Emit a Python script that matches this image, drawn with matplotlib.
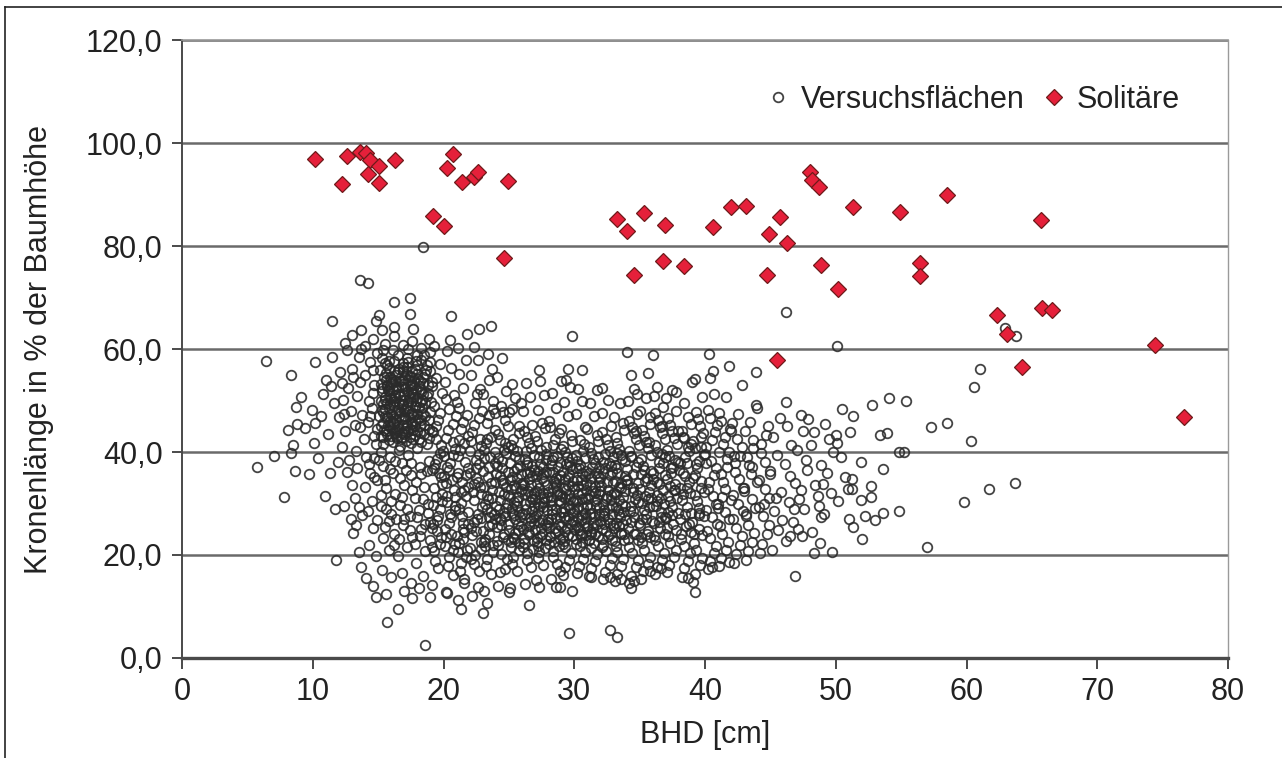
import numpy as np
import matplotlib.pyplot as plt
from matplotlib.lines import Line2D
from matplotlib.ticker import FuncFormatter

# BHD [cm] / Kronenlänge [% der Baumhöhe] der Bäume auf den Versuchsflächen
versuch_links = [
    (5.7, 37.0), (6.4, 57.7), (7.0, 39.3), (7.8, 31.2), (8.3, 55.0), (8.1, 44.3), (8.7, 48.8),
    (9.1, 50.7), (8.6, 36.4), (9.7, 35.7), (8.3, 39.9), (8.5, 41.4), (8.8, 45.4), (9.4, 44.6),
    (10.1, 41.8), (10.2, 57.5), (9.9, 48.2), (10.2, 45.7), (11.5, 65.5), (11.5, 58.5), (10.8, 51.2),
    (11.8, 19.0), (11.9, 38.1), (10.6, 47.0), (11.2, 43.5), (11.0, 54.0), (10.4, 38.8), (11.6, 49.5),
    (11.3, 36.0), (10.9, 31.5), (11.7, 29.0), (12.0, 46.8), (11.4, 52.8), (12.1, 55.5), (12.2, 41.0),
    (12.4, 29.6), (13.5, 29.4), (13.0, 33.6), (12.6, 36.2), (13.7, 63.7), (13.6, 73.5), (14.2, 72.8),
    (12.5, 61.1), (12.6, 59.8), (13.7, 60.0), (14.4, 57.5), (13.0, 56.2), (14.6, 61.9), (13.7, 17.6),
    (13.5, 20.6), (13.1, 24.2), (13.3, 25.8), (14.6, 25.2), (14.8, 11.9),
    (12.3, 50.2), (12.7, 52.5), (12.9, 48.0), (13.2, 45.3), (12.5, 44.0), (13.4, 50.8), (13.8, 47.2),
    (13.6, 53.6), (14.0, 55.0), (14.3, 50.0), (13.9, 42.5), (14.2, 45.8), (14.5, 48.6), (14.7, 53.0),
    (14.1, 39.0), (13.3, 40.2), (12.8, 38.5), (14.4, 36.0), (14.8, 41.5), (13.1, 54.5), (12.4, 47.3),
    (14.9, 44.5), (14.6, 56.0), (13.5, 58.4), (14.0, 60.5), (14.9, 59.2), (13.2, 31.0), (14.0, 33.2),
    (14.5, 30.5), (14.9, 34.5), (13.8, 27.8), (14.3, 22.0), (14.8, 19.8), (14.1, 15.5), (14.6, 14.0),
    (12.9, 27.0), (13.4, 36.8), (14.7, 38.8), (14.2, 28.6), (14.9, 26.8), (13.6, 44.8), (12.2, 53.5),
    (13.0, 62.8), (14.8, 65.4), (14.6, 51.5), (14.4, 46.9), (14.7, 43.2),
]

versuch_gruppe = [
    (15.2, 43.1), (15.4, 45.6), (15.3, 48.2), (15.5, 50.7), (15.2, 53.3), (15.6, 55.4), (15.8, 42.4),
    (15.9, 44.8), (16.0, 47.3), (15.7, 49.6), (16.1, 52.1), (15.9, 54.6), (16.3, 43.7), (16.4, 46.2),
    (16.2, 48.9), (16.5, 51.3), (16.3, 53.8), (16.6, 56.2), (16.8, 42.9), (16.9, 45.3), (16.7, 47.8),
    (17.0, 50.2), (16.8, 52.7), (17.1, 55.1), (17.3, 44.1), (17.4, 46.6), (17.2, 49.1), (17.5, 51.6),
    (17.3, 54.0), (17.7, 42.6), (17.8, 45.0), (17.6, 47.5), (17.9, 50.0), (17.7, 52.5), (18.0, 55.2),
    (18.2, 43.8), (18.3, 46.3), (18.1, 48.7), (18.4, 51.2), (18.2, 53.7), (15.5, 46.9), (16.0, 50.5),
    (16.6, 44.5), (17.1, 48.3), (17.6, 53.2), (15.8, 51.9), (16.4, 54.9), (17.0, 43.5), (17.5, 45.8),
    (16.2, 45.5), (16.9, 49.4), (15.6, 44.0), (18.0, 47.4), (16.7, 50.9), (17.4, 52.9), (15.3, 51.8),
    (16.1, 42.0), (17.2, 56.5), (18.5, 45.2), (18.6, 49.6), (15.1, 47.0), (16.5, 48.1), (17.8, 48.8),
    (16.3, 50.0), (17.0, 46.9), (15.9, 46.0), (16.8, 54.0), (17.5, 49.8), (16.0, 53.2), (18.3, 52.2),
    (15.45, 44.3), (15.65, 46.8), (15.35, 49.4), (15.75, 52.0), (15.45, 54.5), (15.95, 43.2),
    (16.15, 45.9), (15.85, 48.5), (16.25, 51.0), (16.05, 53.6), (16.45, 42.7), (16.55, 45.0),
    (16.35, 47.6), (16.75, 50.1), (16.55, 52.6), (16.95, 44.1), (17.05, 46.7), (16.85, 49.2),
    (17.25, 51.8), (17.05, 54.4), (17.45, 43.0), (17.55, 45.5), (17.35, 48.0), (17.75, 50.6),
    (17.55, 53.1), (17.95, 44.0), (18.05, 46.5), (17.85, 49.0), (18.25, 51.6), (18.05, 54.2),
    (18.45, 47.3), (18.35, 50.2), (15.25, 45.0), (15.55, 48.3), (16.1, 49.7), (16.6, 47.0),
    (17.2, 45.2), (17.7, 47.0), (18.2, 49.8), (16.4, 52.5), (16.9, 53.3), (17.4, 50.5), (15.9, 50.9),
    (17.0, 48.0), (16.3, 46.6), (17.6, 54.6), (15.6, 53.9), (18.4, 53.5), (16.8, 43.7), (17.9, 52.0),
    (15.4, 41.6), (16.7, 41.2), (17.5, 41.8), (18.3, 42.0), (16.2, 55.7), (17.8, 56.2), (15.7, 57.0),
    (16.9, 57.2), (18.7, 57.0), (18.0, 58.9), (16.1, 59.9), (17.3, 60.1), (15.4, 59.8),
    (15.3, 58.2), (15.8, 57.6), (16.5, 58.9), (17.2, 58.3), (17.9, 57.6), (18.5, 58.8), (15.5, 61.0),
    (16.2, 62.5), (16.9, 60.8), (17.6, 61.5), (18.3, 60.2), (16.2, 64.2), (17.4, 66.9), (17.4, 70.0),
    (16.2, 69.2), (15.1, 66.6), (17.7, 63.8), (18.9, 62.0), (15.3, 63.7), (18.4, 79.8),
    (15.15, 55.9), (15.5, 57.3), (15.85, 56.3), (16.2, 57.7), (16.55, 55.5), (16.9, 56.6),
    (17.25, 57.4), (17.6, 55.8), (17.95, 56.9), (18.3, 57.8), (18.65, 56.0), (19.0, 57.5),
    (15.3, 52.4), (15.65, 53.1), (16.0, 54.2), (16.35, 52.9), (16.7, 53.7), (17.05, 52.4),
    (17.4, 54.8), (17.75, 53.8), (18.1, 52.8), (18.45, 54.6), (18.8, 51.4), (19.1, 53.6),
    (15.2, 49.9), (15.55, 50.2), (15.9, 49.4), (16.25, 50.4), (16.6, 49.6), (16.95, 51.0),
    (17.3, 49.7), (17.65, 51.2), (18.0, 50.5), (18.35, 48.5), (18.7, 50.9), (19.05, 49.8),
    (15.4, 47.7), (15.75, 45.3), (16.1, 46.9), (16.45, 44.2), (16.8, 46.5), (17.15, 44.7),
    (17.5, 47.3), (17.85, 46.0), (18.2, 45.0), (18.55, 47.0), (18.9, 46.3), (19.15, 44.0),
    (15.35, 42.9), (15.7, 43.5), (16.05, 44.4), (16.4, 43.1), (16.75, 42.5), (17.1, 42.2),
    (17.45, 44.5), (17.8, 43.4), (18.15, 42.6), (18.5, 43.5), (18.85, 42.7),
    (15.2, 40.1), (15.9, 39.0), (16.6, 40.4), (17.3, 39.5), (18.0, 40.8), (18.7, 41.5), (18.9, 44.5),
    (19.0, 47.8), (18.8, 53.0), (19.0, 55.8), (15.4, 37.2), (16.1, 36.0), (16.8, 37.8), (17.5, 35.5),
    (18.2, 37.0), (18.9, 38.2), (15.6, 33.0), (16.3, 31.8), (17.0, 33.5), (17.8, 31.0), (18.5, 33.2),
    (15.2, 29.5), (16.0, 28.0), (16.7, 29.8), (17.4, 27.5), (18.1, 28.8), (18.8, 30.0), (15.5, 25.5),
    (16.2, 24.0), (16.9, 25.8), (17.6, 23.5), (18.3, 25.0), (19.0, 26.5), (15.8, 21.0), (16.5, 19.8),
    (17.2, 21.5), (17.9, 18.5), (18.6, 20.8), (15.3, 17.0), (16.0, 15.8), (16.8, 16.5), (17.5, 14.5),
    (18.4, 16.0), (16.5, 9.6), (15.7, 6.9), (17.6, 11.6), (18.6, 2.5), (19.0, 11.9), (15.6, 12.5),
    (17.0, 13.0), (18.1, 13.5), (16.3, 44.0), (17.7, 44.3), (15.7, 52.8), (16.9, 55.8), (18.6, 55.2),
    (14.3, 37.6), (14.7, 35.2), (15.1, 38.4), (15.5, 34.6), (15.9, 36.7), (16.3, 38.3), (16.7, 34.9),
    (17.1, 36.6), (17.5, 37.9), (17.9, 34.2), (18.3, 35.8), (18.7, 36.4), (15.2, 31.6), (15.6, 28.9),
    (16.0, 30.5), (16.4, 27.0), (16.8, 31.2), (17.2, 29.0), (17.6, 32.6), (18.0, 27.3), (18.4, 30.9),
    (18.8, 28.2), (15.4, 23.3), (15.8, 26.6), (16.2, 22.0), (16.6, 23.1), (17.0, 27.0), (17.4, 24.9),
    (17.8, 22.1), (18.2, 23.6), (18.6, 26.0), (19.0, 22.9),
]

versuch_mitte = [
    (19.1, 14.2), (19.6, 17.5), (19.3, 20.8), (19.8, 23.4), (19.2, 26.1), (19.7, 28.9), (19.4, 31.2),
    (19.9, 33.8), (19.1, 36.5), (19.5, 38.7), (19.8, 41.3), (19.2, 43.9), (19.6, 46.2), (19.3, 49.0),
    (19.9, 51.4), (19.4, 54.3), (19.7, 57.1), (19.0, 59.4), (19.5, 24.7), (19.2, 29.8), (19.8, 35.2),
    (19.4, 45.1), (19.3, 60.6),
    (20.2, 12.9), (20.7, 16.1), (20.4, 19.6), (20.9, 22.2), (20.1, 25.0), (20.6, 27.4), (20.3, 30.3),
    (20.8, 32.6), (20.0, 35.4), (20.5, 37.9), (20.9, 40.6), (20.2, 42.8), (20.7, 45.5), (20.4, 48.3),
    (20.8, 51.0), (20.1, 53.6), (20.6, 56.3), (20.3, 59.7), (20.5, 61.8), (20.9, 28.7), (20.2, 33.9),
    (20.6, 24.0), (20.6, 66.5), (20.3, 12.6),
    (21.1, 11.2), (21.6, 15.3), (21.3, 18.4), (21.8, 21.0), (21.0, 23.7), (21.5, 26.3), (21.2, 29.0),
    (21.7, 31.5), (21.4, 34.1), (21.9, 36.8), (21.1, 39.2), (21.6, 41.7), (21.3, 44.4), (21.8, 47.1),
    (21.0, 49.8), (21.5, 52.5), (21.2, 55.2), (21.7, 57.9), (21.4, 27.6), (21.9, 33.2), (21.1, 36.0),
    (21.6, 24.5), (21.8, 63.0), (21.1, 60.3), (21.3, 9.5), (21.6, 14.5),
    (22.2, 12.1), (22.7, 16.8), (22.4, 19.9), (22.9, 22.6), (22.1, 25.3), (22.6, 28.0), (22.3, 30.7),
    (22.8, 33.3), (22.0, 36.0), (22.5, 38.5), (22.9, 41.1), (22.2, 43.8), (22.7, 46.6), (22.4, 49.5),
    (22.8, 52.3), (22.1, 55.0), (22.6, 57.8), (22.3, 26.4), (22.9, 31.9), (22.5, 35.0), (22.0, 21.4),
    (22.7, 39.6), (22.7, 63.9), (22.3, 60.4), (22.6, 13.8),
    (23.1, 13.0), (23.6, 16.4), (23.3, 19.3), (23.8, 22.0), (23.0, 24.6), (23.5, 27.3), (23.2, 29.9),
    (23.7, 32.6), (23.4, 35.2), (23.9, 37.8), (23.1, 40.4), (23.6, 43.0), (23.3, 45.7), (23.8, 48.4),
    (23.0, 51.2), (23.5, 53.9), (23.2, 21.7), (23.7, 26.0), (23.4, 30.8), (23.9, 34.1), (23.1, 38.9),
    (23.6, 28.4), (23.6, 64.5), (23.4, 59.0), (23.7, 56.2), (23.9, 47.5), (23.0, 8.7), (23.3, 10.6),
    (24.2, 14.0), (24.7, 17.2), (24.4, 20.2), (24.9, 22.9), (24.1, 25.5), (24.6, 28.1), (24.3, 30.6),
    (24.8, 33.2), (24.0, 35.8), (24.5, 38.3), (24.9, 40.9), (24.2, 43.5), (24.7, 46.2), (24.4, 49.0),
    (24.8, 51.8), (24.1, 54.6), (24.6, 24.0), (24.3, 27.2), (24.9, 31.7), (24.5, 36.9), (24.0, 29.5),
    (24.7, 41.8), (24.5, 58.2),
    (25.1, 13.6), (25.6, 16.9), (25.3, 19.7), (25.8, 22.3), (25.0, 24.8), (25.5, 27.0), (25.2, 29.1),
    (25.7, 31.3), (25.4, 33.5), (25.9, 35.7), (25.1, 37.9), (25.6, 40.2), (25.3, 42.6), (25.8, 45.1),
    (25.0, 47.7), (25.5, 50.5), (25.2, 53.2), (25.7, 26.1), (25.4, 30.2), (25.9, 32.4), (25.1, 34.6),
    (25.6, 36.8), (25.3, 23.5), (25.8, 28.3), (25.2, 48.3), (25.9, 49.6), (25.0, 12.9),
    (26.2, 14.3), (26.7, 17.6), (26.4, 20.4), (26.9, 22.8), (26.1, 25.0), (26.6, 27.1), (26.3, 29.0),
    (26.8, 30.9), (26.0, 32.8), (26.5, 34.7), (26.9, 36.6), (26.2, 38.6), (26.7, 40.7), (26.4, 42.9),
    (26.8, 45.3), (26.1, 47.9), (26.6, 50.6), (26.3, 53.4), (26.5, 24.0), (26.0, 27.9), (26.8, 28.5),
    (26.2, 31.8), (26.7, 33.6), (26.4, 35.9), (26.9, 26.2), (26.1, 21.5), (26.5, 10.3),
    (27.1, 15.1), (27.6, 18.0), (27.3, 20.6), (27.8, 22.9), (27.0, 24.9), (27.5, 26.8), (27.2, 28.5),
    (27.7, 30.2), (27.4, 31.9), (27.9, 33.6), (27.1, 35.3), (27.6, 37.1), (27.3, 39.0), (27.8, 41.0),
    (27.0, 43.2), (27.5, 45.6), (27.2, 48.2), (27.7, 51.0), (27.4, 53.8), (27.9, 25.8), (27.1, 27.6),
    (27.6, 29.4), (27.3, 33.0), (27.8, 36.2), (27.4, 23.6), (27.0, 30.9), (27.7, 34.4), (27.2, 21.8),
    (27.3, 56.0), (27.3, 13.7),
    (28.2, 15.4), (28.7, 18.3), (28.4, 20.8), (28.9, 23.1), (28.1, 25.2), (28.6, 27.1), (28.3, 28.8),
    (28.8, 30.5), (28.0, 32.2), (28.5, 33.9), (28.9, 35.6), (28.2, 37.4), (28.7, 39.3), (28.4, 41.4),
    (28.8, 43.6), (28.1, 46.0), (28.6, 48.6), (28.3, 51.5), (28.5, 24.3), (28.0, 26.4), (28.8, 26.0),
    (28.2, 29.7), (28.7, 31.6), (28.4, 33.0), (28.9, 38.1), (28.1, 22.2), (28.6, 35.0), (28.3, 27.9),
    (28.6, 13.7), (28.9, 16.8), (28.9, 13.8),
    (29.1, 16.2), (29.6, 19.0), (29.3, 21.5), (29.8, 23.7), (29.0, 25.7), (29.5, 27.5), (29.2, 29.2),
    (29.7, 30.9), (29.4, 32.6), (29.9, 34.3), (29.1, 36.1), (29.6, 38.0), (29.3, 40.0), (29.8, 42.2),
    (29.0, 44.5), (29.5, 47.0), (29.2, 49.8), (29.7, 52.6), (29.4, 54.0), (29.9, 26.6), (29.1, 28.3),
    (29.6, 31.8), (29.3, 24.6), (29.8, 33.4), (29.0, 30.2), (29.5, 35.2), (29.2, 22.8), (29.7, 37.2),
    (29.5, 56.2), (29.8, 62.5), (29.0, 53.8), (29.8, 13.1), (29.6, 4.8),
    (30.2, 16.5), (30.7, 19.2), (30.4, 21.7), (30.9, 23.9), (30.1, 25.9), (30.6, 27.7), (30.3, 29.4),
    (30.8, 31.1), (30.0, 32.8), (30.5, 34.5), (30.9, 36.3), (30.2, 38.2), (30.7, 40.2), (30.4, 42.4),
    (30.8, 44.8), (30.1, 47.3), (30.6, 50.0), (30.3, 52.2), (30.5, 26.8), (30.0, 28.5), (30.8, 28.2),
    (30.2, 30.4), (30.7, 33.6), (30.4, 24.8), (30.9, 34.0), (30.1, 36.9), (30.6, 22.6), (30.3, 31.9),
    (30.6, 55.9),
    (31.1, 16.0), (31.6, 18.8), (31.3, 21.3), (31.8, 23.6), (31.0, 25.6), (31.5, 27.4), (31.2, 29.1),
    (31.7, 30.8), (31.4, 32.5), (31.9, 34.2), (31.1, 36.0), (31.6, 37.9), (31.3, 39.9), (31.8, 42.1),
    (31.0, 44.4), (31.5, 46.9), (31.2, 49.5), (31.7, 52.0), (31.4, 26.3), (31.9, 28.0), (31.1, 31.6),
    (31.6, 33.2), (31.3, 24.5), (31.8, 35.4), (31.0, 29.8), (31.5, 22.3), (31.3, 15.7),
    (32.2, 15.3), (32.7, 18.1), (32.4, 20.7), (32.9, 23.0), (32.1, 25.1), (32.6, 27.0), (32.3, 28.8),
    (32.8, 30.6), (32.0, 32.4), (32.5, 34.2), (32.9, 36.1), (32.2, 38.1), (32.7, 40.2), (32.4, 42.5),
    (32.8, 45.0), (32.1, 47.6), (32.6, 50.1), (32.3, 26.1), (32.9, 29.5), (32.5, 31.5), (32.0, 34.9),
    (32.7, 24.0), (32.2, 22.0), (32.8, 37.3), (32.1, 52.4), (32.7, 5.4), (32.7, 15.8),
]

versuch_rechts = [
    (33.1, 15.0), (33.6, 17.9), (33.3, 20.6), (33.8, 23.0), (33.0, 25.2), (33.5, 27.3), (33.2, 29.3),
    (33.7, 31.3), (33.4, 33.3), (33.9, 35.3), (33.1, 37.4), (33.6, 39.5), (33.3, 41.8), (33.8, 44.2),
    (33.0, 46.8), (33.5, 49.5), (33.2, 26.3), (33.7, 28.4), (33.4, 30.6), (33.9, 32.5), (33.1, 34.4),
    (33.6, 24.1), (33.3, 4.0), (33.6, 15.3),
    (34.2, 14.6), (34.7, 17.6), (34.4, 20.4), (34.9, 22.9), (34.1, 25.2), (34.6, 27.4), (34.3, 29.5),
    (34.8, 31.6), (34.0, 33.7), (34.5, 35.8), (34.9, 38.0), (34.2, 40.2), (34.7, 42.5), (34.4, 44.9),
    (34.8, 47.4), (34.1, 50.0), (34.6, 52.2), (34.3, 26.5), (34.9, 30.2), (34.5, 33.0), (34.0, 36.7),
    (34.7, 24.0), (34.0, 59.5), (34.3, 55.0), (34.8, 51.3), (34.3, 13.5), (34.6, 15.0),
    (35.1, 15.4), (35.6, 18.3), (35.3, 21.0), (35.8, 23.5), (35.0, 25.8), (35.5, 28.0), (35.2, 30.1),
    (35.7, 32.2), (35.4, 34.3), (35.9, 36.4), (35.1, 38.6), (35.6, 40.8), (35.3, 43.1), (35.8, 45.5),
    (35.0, 48.0), (35.5, 50.5), (35.2, 27.0), (35.7, 29.4), (35.4, 31.5), (35.9, 33.6), (35.1, 35.7),
    (35.6, 24.6), (35.6, 55.3), (35.8, 16.8),
    (36.2, 16.3), (36.7, 19.1), (36.4, 21.7), (36.9, 24.1), (36.1, 26.3), (36.6, 28.4), (36.3, 30.5),
    (36.8, 32.6), (36.0, 34.7), (36.5, 36.8), (36.9, 39.0), (36.2, 41.3), (36.7, 43.7), (36.4, 46.2),
    (36.8, 48.8), (36.1, 50.9), (36.6, 27.3), (36.3, 31.6), (36.9, 35.5), (36.5, 38.0), (36.0, 29.6),
    (36.7, 45.0), (36.0, 58.8), (36.3, 52.7), (36.6, 17.4),
    (37.1, 16.7), (37.6, 19.6), (37.3, 22.3), (37.8, 24.8), (37.0, 27.1), (37.5, 29.3), (37.2, 31.5),
    (37.7, 33.7), (37.4, 35.9), (37.9, 38.1), (37.1, 40.4), (37.6, 42.8), (37.3, 45.3), (37.8, 47.9),
    (37.0, 50.5), (37.5, 52.1), (37.2, 28.4), (37.7, 32.6), (37.4, 36.8), (37.9, 44.0), (37.8, 51.7),
    (38.2, 15.8), (38.7, 18.9), (38.4, 21.8), (38.9, 24.5), (38.1, 27.0), (38.6, 29.4), (38.3, 31.8),
    (38.8, 34.2), (38.0, 36.6), (38.5, 39.0), (38.9, 41.5), (38.2, 44.1), (38.7, 46.8), (38.4, 49.6),
    (38.8, 26.0), (38.1, 33.0), (38.6, 37.8), (38.3, 43.0), (38.7, 15.6),
    (39.1, 14.8), (39.6, 18.0), (39.3, 21.0), (39.8, 23.8), (39.0, 26.5), (39.5, 29.1), (39.2, 31.7),
    (39.7, 34.3), (39.4, 36.9), (39.9, 39.5), (39.1, 42.2), (39.6, 45.0), (39.3, 47.8), (39.8, 50.7),
    (39.0, 53.6), (39.5, 27.8), (39.2, 35.6), (39.7, 41.0), (39.2, 54.1), (39.2, 12.9),
    (40.2, 17.3), (40.7, 20.4), (40.4, 23.3), (40.9, 26.1), (40.1, 28.8), (40.6, 31.5), (40.3, 34.2),
    (40.8, 36.9), (40.0, 39.6), (40.5, 42.4), (40.9, 45.3), (40.2, 48.2), (40.7, 51.2), (40.4, 54.3),
    (40.8, 30.0), (40.1, 37.8), (40.3, 59.0), (40.6, 55.8), (40.5, 17.7),
    (41.1, 17.8), (41.6, 21.0), (41.3, 24.1), (41.8, 27.0), (41.0, 29.9), (41.5, 32.8), (41.2, 35.7),
    (41.7, 38.6), (41.4, 41.5), (41.9, 44.5), (41.1, 47.5), (41.6, 50.6), (41.3, 31.2), (41.8, 40.0),
    (41.8, 56.8), (41.8, 18.6),
    (42.2, 18.5), (42.7, 22.0), (42.4, 25.3), (42.9, 28.5), (42.1, 31.6), (42.6, 34.7), (42.3, 37.8),
    (42.8, 40.9), (42.0, 44.1), (42.5, 47.3), (42.9, 33.0), (42.2, 39.2), (42.8, 53.0),
    (43.1, 19.0), (43.6, 22.5), (43.3, 25.9), (43.8, 29.2), (43.0, 32.5), (43.5, 35.8), (43.2, 39.1),
    (43.7, 42.4), (43.4, 45.8), (43.9, 49.2), (43.1, 28.0), (43.6, 37.0), (43.9, 55.5),
    (44.2, 20.3), (44.7, 24.0), (44.4, 27.6), (44.9, 31.1), (44.1, 34.6), (44.6, 38.1), (44.3, 41.6),
    (44.8, 45.1), (44.0, 48.6), (44.5, 30.0),
    (45.1, 21.0), (45.6, 24.9), (45.3, 28.6), (45.8, 32.2), (45.0, 35.8), (45.5, 39.4), (45.2, 43.0),
    (45.7, 46.6), (45.4, 31.0), (45.9, 26.8),
]

# dichter Kern des Bandes
versuch_kern = [
    (19.35, 18.9), (19.75, 22.1), (19.15, 25.3), (19.55, 27.5), (19.85, 30.4), (19.25, 33.0),
    (19.65, 35.9), (19.35, 37.6), (19.95, 40.2), (19.45, 42.6), (19.75, 47.5), (19.15, 52.8),
    (20.35, 17.8), (20.75, 20.9), (20.15, 23.5), (20.45, 26.2), (20.85, 29.6), (20.25, 31.5),
    (20.65, 34.5), (20.45, 36.6), (20.05, 39.2), (20.75, 41.9), (20.35, 44.2), (20.95, 47.0),
    (20.15, 50.3),
    (21.25, 16.9), (21.75, 19.7), (21.15, 22.3), (21.45, 25.1), (21.85, 28.3), (21.35, 30.1),
    (21.55, 32.7), (21.05, 35.2), (21.65, 38.0), (21.25, 40.4), (21.85, 43.1), (21.45, 45.9),
    (21.15, 48.5),
    (22.35, 18.2), (22.85, 21.1), (22.15, 23.9), (22.55, 26.9), (22.95, 29.4), (22.25, 32.2),
    (22.65, 34.2), (22.45, 36.9), (22.05, 40.2), (22.75, 42.5), (22.35, 45.2), (22.95, 48.0),
    (22.55, 51.2),
    (23.25, 17.8), (23.75, 20.6), (23.15, 23.2), (23.45, 25.7), (23.85, 28.0), (23.35, 31.5),
    (23.65, 33.9), (23.05, 36.4), (23.55, 39.0), (23.25, 41.7), (23.95, 44.3), (23.45, 47.1),
    (23.75, 50.0),
    (24.35, 16.6), (24.85, 19.3), (24.15, 21.9), (24.55, 23.4), (24.95, 26.0), (24.25, 29.0),
    (24.65, 31.8), (24.45, 34.5), (24.05, 37.3), (24.75, 39.8), (24.35, 42.4), (24.95, 45.0),
    (24.55, 47.8),
    (25.25, 18.3), (25.75, 20.9), (25.15, 22.5), (25.45, 24.2), (25.95, 25.6), (25.35, 27.8),
    (25.65, 29.6), (25.05, 31.2), (25.55, 33.0), (25.25, 35.1), (25.85, 37.3), (25.45, 39.2),
    (25.15, 41.3), (25.75, 43.6),
    (26.35, 19.0), (26.85, 21.2), (26.15, 23.1), (26.55, 25.6), (26.95, 27.4), (26.25, 29.9),
    (26.65, 31.4), (26.45, 32.5), (26.05, 34.0), (26.75, 35.3), (26.35, 37.5), (26.95, 39.5),
    (26.55, 41.8), (26.15, 44.1),
    (27.25, 19.4), (27.75, 21.4), (27.15, 23.3), (27.55, 24.1), (27.95, 27.0), (27.35, 29.6),
    (27.65, 31.0), (27.05, 32.4), (27.55, 34.9), (27.25, 36.4), (27.85, 38.4), (27.45, 40.3),
    (27.15, 42.2), (27.75, 44.6),
    (28.35, 19.6), (28.85, 21.7), (28.15, 23.7), (28.55, 25.3), (28.95, 28.4), (28.25, 30.6),
    (28.65, 32.5), (28.45, 34.4), (28.05, 36.1), (28.75, 37.1), (28.35, 39.0), (28.95, 40.5),
    (28.55, 42.5), (28.15, 44.9),
    (29.25, 17.6), (29.75, 20.4), (29.15, 22.1), (29.55, 23.8), (29.95, 25.0), (29.35, 26.8),
    (29.65, 28.9), (29.05, 31.4), (29.55, 33.6), (29.25, 34.8), (29.85, 36.7), (29.45, 39.1),
    (29.15, 41.2), (29.75, 43.4),
    (30.35, 17.9), (30.85, 20.6), (30.15, 22.2), (30.55, 23.9), (30.95, 25.2), (30.25, 27.1),
    (30.65, 29.2), (30.05, 30.7), (30.55, 32.0), (30.25, 33.4), (30.85, 35.4), (30.45, 37.4),
    (30.15, 39.5), (30.75, 41.6),
    (31.25, 17.5), (31.75, 20.2), (31.15, 22.9), (31.55, 24.0), (31.95, 26.6), (31.35, 28.1),
    (31.65, 29.7), (31.05, 31.1), (31.55, 32.0), (31.25, 34.9), (31.85, 36.8), (31.45, 38.7),
    (31.15, 41.0), (31.75, 43.3),
    (32.35, 16.7), (32.85, 19.4), (32.15, 21.6), (32.55, 23.6), (32.95, 25.8), (32.25, 27.6),
    (32.65, 29.2), (32.45, 31.0), (32.05, 33.4), (32.75, 35.5), (32.35, 36.9), (32.95, 39.0),
    (32.55, 41.3), (32.15, 43.8),
    (33.25, 16.4), (33.75, 19.2), (33.15, 21.8), (33.55, 24.3), (33.95, 26.7), (33.35, 28.7),
    (33.65, 30.0), (33.05, 32.0), (33.55, 34.0), (33.25, 36.0), (33.85, 38.2), (33.45, 40.6),
    (33.15, 43.0), (33.75, 45.6),
    (34.35, 16.0), (34.85, 19.0), (34.15, 21.5), (34.55, 24.0), (34.95, 26.3), (34.25, 28.5),
    (34.65, 30.8), (34.45, 32.2), (34.05, 34.6), (34.75, 37.0), (34.35, 39.1), (34.95, 41.3),
    (34.55, 43.7), (34.15, 46.1),
    (35.25, 16.9), (35.75, 19.6), (35.15, 22.3), (35.55, 24.0), (35.95, 26.6), (35.35, 28.7),
    (35.65, 30.8), (35.05, 32.9), (35.55, 35.0), (35.25, 37.2), (35.85, 39.4), (35.45, 41.9),
    (35.15, 44.3), (35.75, 46.8),
    (36.35, 17.7), (36.85, 20.4), (36.15, 22.9), (36.55, 25.2), (36.95, 27.4), (36.25, 29.5),
    (36.65, 31.0), (36.45, 33.7), (36.05, 35.9), (36.75, 37.9), (36.35, 40.1), (36.95, 42.5),
    (36.55, 44.9), (36.15, 47.5),
    (37.25, 18.1), (37.75, 21.0), (37.15, 23.6), (37.55, 26.0), (37.95, 28.2), (37.35, 30.4),
    (37.65, 32.6), (37.05, 34.8), (37.55, 37.0), (37.25, 39.2), (37.85, 41.6), (37.45, 44.1),
    (37.15, 46.6),
    (38.35, 17.4), (38.85, 20.3), (38.15, 23.1), (38.55, 25.7), (38.95, 28.2), (38.25, 30.6),
    (38.65, 33.0), (38.45, 35.4), (38.05, 37.8), (38.75, 40.2), (38.35, 42.8), (38.95, 45.4),
    (39.25, 16.4), (39.75, 19.5), (39.15, 22.4), (39.55, 25.1), (39.95, 27.6), (39.35, 30.4),
    (39.65, 33.0), (39.05, 35.0), (39.55, 38.2), (39.25, 40.8), (39.85, 43.6), (39.45, 46.4),
    (40.35, 18.8), (40.85, 21.8), (40.15, 24.7), (40.55, 27.4), (40.95, 29.1), (40.25, 32.8),
    (40.65, 35.5), (40.45, 38.2), (40.05, 41.0), (40.75, 43.8), (40.35, 46.7),
    (41.25, 19.4), (41.75, 22.5), (41.15, 25.6), (41.55, 28.4), (41.95, 30.6), (41.35, 34.2),
    (41.65, 37.1), (41.05, 40.0), (41.55, 43.0), (41.25, 46.0),
    (42.35, 20.2), (42.85, 23.6), (42.15, 26.9), (42.55, 30.0), (42.95, 33.1), (42.25, 36.2),
    (42.65, 39.3), (42.45, 42.5), (42.05, 45.7),
    (43.25, 20.8), (43.75, 24.2), (43.15, 27.5), (43.55, 30.8), (43.95, 34.1), (43.35, 37.4),
    (43.65, 40.7), (43.05, 44.1),
    (44.35, 22.1), (44.85, 25.8), (44.15, 29.3), (44.55, 32.8), (44.95, 36.3), (44.25, 39.8),
    (44.65, 43.3),
]

# zusätzliche Bäume in den dichtesten Bereichen (19-40 cm)
versuch_dicht = [
    (19.12, 21.6), (19.52, 26.7), (19.88, 31.8), (19.3, 36.9), (19.7, 39.8), (20.12, 21.8),
    (20.5, 28.0), (20.88, 31.2), (20.3, 37.0), (20.7, 39.4), (21.1, 20.6), (21.5, 23.2),
    (21.9, 26.0), (21.3, 32.3), (21.7, 35.6), (21.2, 42.3), (22.1, 19.2), (22.5, 24.7),
    (22.9, 27.2), (22.3, 33.7), (22.7, 37.7), (22.1, 42.1), (23.1, 22.6), (23.5, 24.1),
    (23.9, 26.9), (23.3, 29.0), (23.7, 31.0), (23.1, 33.3), (23.5, 37.0), (23.9, 40.0), (23.3, 42.6),
    (24.12, 22.7), (24.42, 25.8), (24.72, 27.6), (24.88, 30.1), (24.22, 32.3), (24.58, 34.0),
    (24.92, 36.1), (24.18, 38.8), (24.62, 40.4), (24.38, 26.7), (24.8, 29.2), (24.28, 35.3),
    (25.12, 21.6), (25.42, 23.1), (25.72, 24.9), (25.88, 27.4), (25.22, 28.2), (25.58, 30.4),
    (25.92, 33.7), (25.18, 32.9), (25.62, 35.0), (25.38, 36.4), (25.8, 38.6), (25.28, 40.5),
    (26.12, 22.3), (26.42, 24.5), (26.72, 26.6), (26.88, 29.5), (26.22, 28.0), (26.58, 30.3),
    (26.92, 32.0), (26.18, 33.5), (26.62, 36.2), (26.38, 38.0), (26.8, 37.2), (26.28, 40.2),
    (27.12, 22.6), (27.42, 25.2), (27.72, 26.0), (27.88, 28.7), (27.22, 30.0), (27.58, 32.1),
    (27.92, 31.2), (27.18, 34.0), (27.62, 35.8), (27.38, 37.7), (27.8, 39.6), (27.28, 26.4),
    (28.12, 23.4), (28.42, 22.6), (28.72, 24.6), (28.88, 27.3), (28.22, 27.0), (28.58, 29.0),
    (28.92, 31.8), (28.18, 31.2), (28.62, 33.6), (28.38, 36.2), (28.8, 34.7), (28.28, 38.4),
    (29.12, 23.5), (29.42, 25.2), (29.72, 26.1), (29.88, 28.2), (29.22, 27.4), (29.58, 29.8),
    (29.92, 30.5), (29.18, 33.0), (29.62, 35.7), (29.38, 37.6), (29.8, 38.9), (29.28, 31.0),
    (30.12, 23.2), (30.42, 24.1), (30.72, 26.2), (30.88, 27.2), (30.22, 28.9), (30.58, 30.9),
    (30.92, 32.6), (30.18, 34.6), (30.62, 35.9), (30.38, 36.8), (30.8, 38.8), (30.28, 25.5),
    (31.12, 23.0), (31.42, 25.2), (31.72, 26.0), (31.88, 29.3), (31.22, 27.9), (31.58, 30.4),
    (31.92, 31.9), (31.18, 33.6), (31.62, 35.9), (31.38, 37.1), (31.8, 39.1), (31.28, 24.1),
    (32.12, 23.2), (32.42, 24.6), (32.72, 26.2), (32.88, 27.9), (32.22, 29.9), (32.58, 32.7),
    (32.92, 33.9), (32.18, 35.9), (32.62, 37.8), (32.38, 39.6), (32.8, 31.7), (32.28, 28.2),
    (33.12, 22.8), (33.42, 25.7), (33.72, 26.1), (33.88, 29.6), (33.22, 31.9), (33.58, 33.0),
    (33.92, 34.6), (33.18, 36.9), (33.62, 38.6), (33.38, 27.9), (33.8, 24.0), (33.28, 39.8),
    (34.12, 23.1), (34.52, 28.6), (34.88, 33.9), (34.3, 39.3), (34.7, 44.0), (35.12, 23.4),
    (35.5, 26.9), (35.88, 31.0), (35.3, 36.5), (35.7, 42.0), (36.12, 23.6), (36.5, 26.4),
    (36.88, 30.0), (36.3, 34.2), (36.7, 39.6), (37.12, 25.2), (37.5, 27.7), (37.88, 31.0),
    (37.3, 33.4), (37.7, 38.5), (38.12, 24.0), (38.5, 27.9), (38.88, 32.0), (38.3, 36.0),
    (38.7, 41.0), (39.12, 24.1), (39.5, 28.2), (39.88, 32.2), (39.3, 37.6), (39.7, 43.0),
]

versuch_aussen = [
    (46.2, 22.7), (46.7, 26.5), (46.4, 30.2), (46.9, 33.9), (46.1, 37.6), (46.6, 41.3), (46.3, 45.0),
    (46.8, 29.0), (46.5, 35.3), (47.1, 25.0), (47.6, 28.9), (47.3, 32.7), (47.8, 36.5), (47.0, 40.3),
    (47.5, 44.1), (47.2, 30.8), (47.7, 38.5), (48.2, 24.4), (48.7, 29.6), (48.4, 33.5), (48.9, 37.4),
    (48.1, 41.3), (48.6, 31.5), (48.3, 43.8), (49.1, 28.0), (49.6, 32.0), (49.3, 36.0), (49.8, 40.0),
    (49.0, 33.8), (49.5, 42.5), (50.2, 30.5), (50.7, 35.2), (50.4, 39.0), (50.9, 32.8), (50.1, 41.8),
    (46.2, 67.2), (50.1, 60.6), (46.9, 15.9), (46.2, 49.8), (50.5, 48.3), (52.8, 49.1), (54.1, 50.4),
    (55.4, 50.0), (57.3, 44.8), (58.5, 45.7), (51.3, 46.9), (51.1, 43.9), (49.2, 45.4), (50.0, 43.3),
    (47.3, 47.2), (47.9, 46.5), (53.4, 43.3), (53.9, 43.6), (54.8, 40.1), (55.2, 40.1), (53.6, 36.7),
    (52.7, 33.4), (52.7, 31.3), (51.9, 30.7), (51.2, 34.7), (51.2, 32.8), (51.9, 38.1), (53.6, 28.1),
    (53.0, 26.8), (52.2, 27.6), (54.8, 28.5), (52.0, 23.2), (51.3, 25.4), (51.0, 27.0), (49.7, 20.6),
    (48.8, 22.3), (48.3, 20.3), (48.9, 27.4), (47.4, 23.6), (46.5, 23.7), (62.9, 64.0), (63.8, 62.5),
    (61.0, 56.2), (60.6, 52.7), (60.3, 42.2), (63.7, 34.0), (61.7, 32.9), (59.8, 30.2), (57.0, 21.5),
]

# BHD [cm] / Kronenlänge [%] der Solitärbäume
solitaer = [
    (10.2, 96.9), (12.2, 92.0), (12.6, 97.5), (13.6, 98.3), (14.1, 98.1), (14.4, 96.7), (14.2, 94.0),
    (15.1, 95.5), (15.1, 92.2), (16.3, 96.7), (19.2, 85.8), (20.0, 84.0), (20.3, 95.1), (20.7, 97.8),
    (21.4, 92.4), (22.3, 93.4), (22.6, 94.4), (24.9, 92.6), (24.6, 77.7), (33.3, 85.2), (34.0, 82.9),
    (35.3, 86.4), (36.9, 84.1), (34.6, 74.4), (36.8, 77.1), (38.4, 76.1), (40.6, 83.7), (42.0, 87.6),
    (43.1, 87.8), (45.7, 85.6), (44.9, 82.3), (46.3, 80.6), (44.7, 74.4), (48.0, 94.4), (48.2, 92.8),
    (48.7, 91.5), (48.9, 76.3), (50.2, 71.7), (51.3, 87.6), (54.9, 86.6), (58.5, 89.9), (65.7, 85.0),
    (56.4, 76.7), (56.4, 74.2), (62.3, 66.6), (63.1, 62.9), (65.8, 68.0), (66.5, 67.6), (64.2, 56.5),
    (74.4, 60.8), (76.6, 46.8), (45.5, 57.9),
]

x_ticks = [0, 10, 20, 30, 40, 50, 60, 70, 80]
y_ticks = [0, 20, 40, 60, 80, 100, 120]

plt.rcParams['font.family'] = ['Liberation Sans', 'DejaVu Sans']

fig = plt.figure(figsize=(12.82, 7.58), dpi=100)
ax = fig.add_axes([0.142, 0.132, 0.816, 0.815])

versuch = np.array(versuch_links + versuch_gruppe + versuch_mitte + versuch_rechts
                   + versuch_kern + versuch_dicht + versuch_aussen)
sol = np.array(solitaer)

ax.plot(versuch[:, 0], versuch[:, 1], 'o', ls='none', ms=6.9, mfc='none',
        mec='#2a2a2a', mew=1.3, alpha=0.88, zorder=3, label='Versuchsflächen')
ax.plot(sol[:, 0], sol[:, 1], 'D', ls='none', ms=8, mfc='#e5203a',
        mec='#6e1a1a', mew=0.9, zorder=4, label='Solitäre')

ax.set_xlim(0, 80)
ax.set_ylim(0, 120)
ax.set_xticks(x_ticks)
ax.set_yticks(y_ticks)
ax.yaxis.set_major_formatter(FuncFormatter(lambda v, p: f"{v:.1f}".replace('.', ',')))

ax.yaxis.grid(True, color='#6a6a6a', lw=1.8)
ax.set_axisbelow(True)

ax.spines['left'].set_color('#4a4a4a')
ax.spines['left'].set_linewidth(1.4)
ax.spines['bottom'].set_color('#4a4a4a')
ax.spines['bottom'].set_linewidth(2.4)
ax.spines['right'].set_color('#9a9a9a')
ax.spines['right'].set_linewidth(1.0)
ax.spines['top'].set_color('#9a9a9a')
ax.spines['top'].set_linewidth(1.2)

ax.tick_params(axis='y', direction='out', length=7, width=1.4, color='#4a4a4a',
               labelsize=22, labelcolor='#222222', pad=7)
ax.tick_params(axis='x', direction='out', length=8, width=1.4, color='#4a4a4a',
               labelsize=22, labelcolor='#222222', pad=6)

ax.set_xlabel('BHD [cm]', fontsize=22, color='#222222')
ax.set_ylabel('Kronenlänge in % der Baumhöhe', fontsize=22, color='#222222')
ax.xaxis.set_label_coords(0.5, -0.1)
ax.yaxis.set_label_coords(-0.122, 0.5)

ax.legend(loc='center right', bbox_to_anchor=(0.954, 0.903), ncol=2, frameon=False,
          fontsize=22, handlelength=0.8, handletextpad=0.35, columnspacing=0.55,
          borderpad=0, borderaxespad=0, labelcolor='#222222')

# Rahmen oben und links
fig.add_artist(Line2D([0.004, 1.0], [0.991, 0.991], transform=fig.transFigure, color='#222222', lw=1.2))
fig.add_artist(Line2D([0.004, 0.004], [0.0, 0.991], transform=fig.transFigure, color='#222222', lw=1.2))

fig.savefig('out.png', dpi=100)
